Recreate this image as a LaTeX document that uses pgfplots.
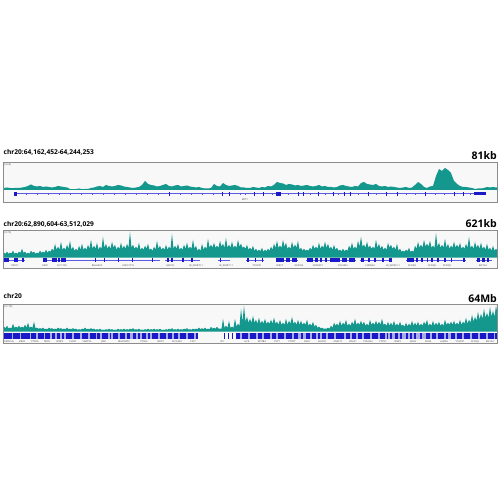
\documentclass[border=0pt]{standalone}
\usepackage{fontspec}
\setmainfont{Open Sans}
\usepackage{pgfplots}
\pgfplotsset{compat=1.18}
\definecolor{covc}{RGB}{20,152,142}
\definecolor{bgc}{RGB}{248,248,248}
\definecolor{framec}{RGB}{140,140,140}
\definecolor{genec}{RGB}{25,25,200}
\definecolor{intronc}{RGB}{90,90,230}
\definecolor{bandlight}{RGB}{170,170,235}
\definecolor{lblc}{RGB}{70,70,70}
\newcommand{\glab}{\fontsize{2.4}{2.8}\selectfont}
\pgfplotsset{trk/.style={scale only axis, width=493.5pt, xmin=3.5, xmax=497, ticks=none,
  axis background/.style={fill=bgc}, axis line style={draw=framec, line width=0.6pt},
  anchor=south west, clip=true, unbounded coords=jump}}
\begin{document}
\begin{tikzpicture}
\useasboundingbox (0,0) rectangle (500pt,500pt);
% ---------------- titles ----------------
\node[anchor=base west, inner sep=0pt, font=\bfseries\fontsize{6.6}{7}\selectfont] at (3.5pt,345pt) {chr20:64,162,452-64,244,253};
\node[anchor=base east, inner sep=0pt, font=\bfseries\fontsize{10.5}{12}\selectfont] at (497pt,340.7pt) {81kb};
\node[anchor=base west, inner sep=0pt, font=\bfseries\fontsize{6.6}{7}\selectfont] at (3.5pt,273.7pt) {chr20:62,890,604-63,512,029};
\node[anchor=base east, inner sep=0pt, font=\bfseries\fontsize{10.5}{12}\selectfont] at (497pt,272.3pt) {621kb};
\node[anchor=base west, inner sep=0pt, font=\bfseries\fontsize{6.6}{7}\selectfont] at (3.5pt,201pt) {chr20};
\node[anchor=base east, inner sep=0pt, font=\bfseries\fontsize{10.5}{12}\selectfont] at (497pt,197.7pt) {64Mb};

% ---------------- panel 1 ----------------
\begin{axis}[trk, at={(3.5pt,298pt)}, height=39.7pt, ymin=-12, ymax=27.7]
\addplot[sharp plot, fill=covc, draw=none] table[row sep=\\, header=false, x expr=4+3*\coordindex, y index=0] {
2\\2.5\\2\\1.8\\2.2\\2\\2.5\\3\\4\\5.5\\
4\\3.5\\4\\3\\3.5\\3\\2.5\\3\\4\\3.5\\
3\\2.5\\1\\0.8\\1\\1.5\\0.8\\1\\1\\2\\
2.5\\3.5\\4\\3\\5\\4\\3.5\\4\\5\\4.5\\
3.5\\3\\2.5\\2\\2.5\\3\\5\\9\\6\\5\\
4.5\\3.5\\4\\5\\6\\4\\3.5\\4.5\\5\\3.5\\
4\\4.5\\3.5\\3\\2.5\\3\\2\\1.5\\1.5\\2\\
6\\4\\3.5\\7\\5\\4\\4.5\\5\\4\\2.5\\
2.5\\2\\2\\3\\2.5\\2\\3\\2.5\\4\\3.5\\
5\\8\\7\\6.5\\5\\6\\5.5\\4.5\\5\\4\\
4.5\\5\\4\\3.5\\4\\5\\3.5\\4\\3\\3\\
2.5\\3\\4.5\\5\\4\\3.5\\3\\4\\3.5\\7\\
8\\6\\5.5\\5\\6\\4\\3.5\\4\\3\\3.5\\
3\\2.5\\2\\2.5\\3\\2\\2.5\\5\\8\\6\\
3\\2\\3.5\\4\\14\\21\\19\\22\\20\\17\\
9\\6\\4\\3\\3\\2.5\\2\\1\\1.5\\1.5\\
2\\3\\2.5\\3\\2.5\\2.5\\
} \closedcycle;
\addplot[covc, line width=0.6pt] coordinates {(3.5,0.3) (497,0.3)};
\addplot[intronc, line width=0.5pt] coordinates {(15,-3.7) (486,-3.7)};
\addplot[only marks, mark=|, mark size=0.9pt, intronc, mark options={line width=0.3pt}] coordinates {
(26,-3.7)(37,-3.7)(48,-3.7)(59,-3.7)(70,-3.7)(81,-3.7)(92,-3.7)(103,-3.7)(114,-3.7)(125,-3.7)
(136,-3.7)(147,-3.7)(158,-3.7)(180,-3.7)(191,-3.7)(202,-3.7)(213,-3.7)(240,-3.7)(245,-3.7)
(272,-3.7)(288,-3.7)(310,-3.7)(325,-3.7)(338,-3.7)(358,-3.7)(376,-3.7)(406,-3.7)(415,-3.7)
(435,-3.7)(444,-3.7)(470,-3.7)};
\addplot[genec, line width=4pt] coordinates {
(14,-3.7)(16.5,-3.7)(16.5,nan)
(168.5,-3.7)(169.5,-3.7)(169.5,nan)
(222,-3.7)(223.3,-3.7)(223.3,nan)
(228.5,-3.7)(229.8,-3.7)(229.8,nan)
(253.5,-3.7)(254.7,-3.7)(254.7,nan)
(262.5,-3.7)(264,-3.7)(264,nan)
(276,-3.7)(281,-3.7)(281,nan)
(297.5,-3.7)(298.7,-3.7)(298.7,nan)
(302.5,-3.7)(303.7,-3.7)(303.7,nan)
(317.5,-3.7)(318.5,-3.7)(318.5,nan)
(332.5,-3.7)(333.5,-3.7)(333.5,nan)
(343.5,-3.7)(344.7,-3.7)(344.7,nan)
(349.5,-3.7)(350.5,-3.7)(350.5,nan)
(367.5,-3.7)(368.5,-3.7)(368.5,nan)
(385.5,-3.7)(386.5,-3.7)(386.5,nan)
(396.5,-3.7)(397.5,-3.7)(397.5,nan)
(424.5,-3.7)(425.5,-3.7)(425.5,nan)
(453.5,-3.7)(454.5,-3.7)(454.5,nan)
(462.5,-3.7)(463.5,-3.7)};
\addplot[genec, line width=2.6pt] coordinates {(474,-3.7)(486,-3.7)};
\node[font=\glab, text=lblc, anchor=north west, inner sep=0.8pt] at (rel axis cs:0,1) {[0-66]};
\node[font=\glab, text=lblc] at (axis cs:245,-9.8) {MYT1};
\end{axis}

% ---------------- panel 2 ----------------
\begin{axis}[trk, at={(3.5pt,231.5pt)}, height=38pt, ymin=-10.8, ymax=27.2]
\addplot[sharp plot, fill=covc, draw=none] table[row sep=\\, header=false, x expr=4+1.5*\coordindex, y index=0] {
5\\4\\6\\4\\5\\4.5\\7\\4\\5\\4\\6\\5\\9\\5\\6\\4\\5\\4\\7\\5\\
6\\4\\5\\4.5\\7\\5\\6\\5\\8\\5\\7\\6\\9\\7\\14\\8\\11\\8\\16\\8\\
10\\8\\13\\9\\17\\8\\11\\7\\9\\7\\12\\8\\14\\8\\10\\8\\13\\9\\18\\9\\
12\\9\\15\\8\\11\\9\\21\\10\\14\\9\\12\\9\\16\\10\\13\\8\\11\\9\\15\\9\\
12\\9\\14\\10\\26\\10\\13\\9\\11\\9\\15\\8\\10\\8\\12\\9\\14\\8\\9\\7\\
11\\8\\17\\9\\12\\8\\10\\8\\13\\8\\11\\9\\24\\9\\12\\9\\14\\8\\10\\8\\
13\\9\\15\\9\\11\\9\\18\\9\\12\\7\\9\\7\\14\\8\\11\\9\\19\\10\\13\\10\\
15\\10\\12\\10\\17\\11\\14\\10\\20\\10\\13\\10\\16\\10\\12\\10\\18\\11\\14\\10\\
11\\9\\13\\8\\10\\8\\12\\7\\9\\6.5\\8\\6.5\\10\\6\\8\\6.5\\9\\7\\11\\8\\
14\\10\\17\\10\\12\\10\\18\\11\\15\\9\\11\\9\\16\\10\\13\\10\\17\\8\\10\\7\\
9\\7\\8\\7\\10\\8\\13\\9\\11\\9\\15\\9\\12\\10\\16\\10\\14\\9\\11\\8\\
13\\8\\10\\7\\8\\6.5\\9\\6.5\\8\\7\\12\\9\\15\\9\\11\\9\\17\\11\\21\\11\\
13\\10\\16\\10\\12\\9\\11\\9\\18\\10\\14\\9\\12\\8\\10\\8\\15\\10\\13\\9\\
11\\8\\14\\7\\9\\6\\7\\6\\8\\6.5\\10\\6\\7\\6\\12\\9\\16\\10\\13\\10\\
18\\11\\14\\11\\17\\10\\12\\10\\25\\11\\15\\10\\13\\10\\19\\10\\14\\9\\12\\10\\
16\\10\\13\\10\\15\\9\\11\\9\\14\\10\\21\\10\\12\\9\\16\\10\\13\\9\\15\\9\\
11\\8\\14\\8\\10\\7\\12\\7\\9\\7\\9\\
} \closedcycle;
\addplot[intronc, line width=0.5pt] coordinates {
(5,-2.3)(25,-2.3)(25,nan)(43,-2.3)(160,-2.3)(160,nan)(165,-2.3)(200,-2.3)(200,nan)
(218,-2.3)(230,-2.3)(230,nan)(246,-2.3)(264,-2.3)(264,nan)(276,-2.3)(298,-2.3)(298,nan)
(306,-2.3)(356,-2.3)(356,nan)(360,-2.3)(392,-2.3)(392,nan)(406,-2.3)(466,-2.3)(466,nan)
(476,-2.3)(492,-2.3)};
\addplot[genec, line width=3.4pt] coordinates {
(4,-2.3)(9,-2.3)(9,nan)(14,-2.3)(18,-2.3)(18,nan)(22,-2.3)(24,-2.3)(24,nan)
(43,-2.3)(47,-2.3)(47,nan)(52,-2.3)(57,-2.3)(57,nan)(58,-2.3)(60,-2.3)(60,nan)(61,-2.3)(66,-2.3)(66,nan)
(95,-2.3)(96,-2.3)(96,nan)(104,-2.3)(105,-2.3)(105,nan)(118,-2.3)(119,-2.3)(119,nan)
(132,-2.3)(133,-2.3)(133,nan)(152,-2.3)(153,-2.3)(153,nan)(167,-2.3)(169,-2.3)(169,nan)
(171,-2.3)(173,-2.3)(173,nan)(182,-2.3)(183.5,-2.3)(183.5,nan)(191,-2.3)(193,-2.3)(193,nan)
(220,-2.3)(221,-2.3)(221,nan)(247,-2.3)(249,-2.3)(249,nan)(255,-2.3)(256,-2.3)(256,nan)
(262,-2.3)(263,-2.3)(263,nan)(276,-2.3)(284,-2.3)(284,nan)(286,-2.3)(290,-2.3)(290,nan)
(292,-2.3)(297,-2.3)(297,nan)(307,-2.3)(313,-2.3)(313,nan)(315,-2.3)(318,-2.3)(318,nan)
(320,-2.3)(322,-2.3)(322,nan)(325,-2.3)(327,-2.3)(327,nan)(330,-2.3)(340,-2.3)(340,nan)
(342,-2.3)(347,-2.3)(347,nan)(349,-2.3)(355,-2.3)(355,nan)(361,-2.3)(364,-2.3)(364,nan)
(368,-2.3)(370,-2.3)(370,nan)(374,-2.3)(376,-2.3)(376,nan)(382,-2.3)(384,-2.3)(384,nan)
(389,-2.3)(392,-2.3)(392,nan)(407,-2.3)(414,-2.3)(414,nan)(416,-2.3)(418,-2.3)(418,nan)
(421,-2.3)(423,-2.3)(423,nan)(427,-2.3)(428,-2.3)(428,nan)(431,-2.3)(433,-2.3)(433,nan)
(437,-2.3)(439,-2.3)(439,nan)(444,-2.3)(446,-2.3)(446,nan)(451,-2.3)(452,-2.3)(452,nan)
(463,-2.3)(465,-2.3)(465,nan)(477,-2.3)(480,-2.3)(480,nan)(482,-2.3)(485,-2.3)(485,nan)
(487,-2.3)(489,-2.3)};
\node[font=\glab, text=lblc, anchor=north west, inner sep=0.8pt] at (rel axis cs:0,1) {[0-70]};
\end{axis}
\foreach \xx/\nm in {15/DIDO1,45/GID8,62/SLC17A9,97/BHLHE23,128/LINC01716,170/HAR1B,196/LR\_020870.1,226/LR\_020871.1,
 257/YTHDF1,280/BIRC7,299/NKAIN4,318/ARFGAP1,343/COL20A1,370/CHRNA4,393/LR\_020961.1,412/KCNQ2,432/KCNQ2,447/KCNQ2,483/EEF1A2}
 {\node[font=\glab, text=lblc, inner sep=0pt] at (\xx pt,233.9pt) {\nm};}

% ---------------- panel 3 ----------------
\begin{axis}[trk, at={(3.5pt,156.7pt)}, height=39pt, ymin=-11.6, ymax=27.4]
\addplot[sharp plot, fill=covc, draw=none] table[row sep=\\, header=false, x expr=4+1.5*\coordindex, y index=0] {
5\\3.5\\6\\3.5\\4\\3.5\\8\\4\\5\\4\\6\\4\\5\\4\\7\\4\\9\\4\\5\\4\\
10\\3.5\\4\\3\\3.5\\3\\4\\2.5\\3\\2.5\\4\\3\\3.5\\2.5\\3\\2.5\\4\\3\\3.5\\2.5\\
3\\2.5\\4\\2.5\\3\\2.5\\3.5\\2.5\\3\\2\\2.5\\2\\3\\2.5\\4\\2.5\\3\\2.5\\3.5\\2.5\\
3\\2\\2.5\\2\\3\\1.8\\2\\1.8\\2.5\\2\\3\\2\\2.5\\1.8\\2\\1.8\\3\\2\\2.5\\2\\
3\\2\\2.5\\2\\3\\2.2\\3.5\\2\\2.5\\2\\3\\1.8\\2\\1.8\\2.5\\2\\3\\2\\2.5\\2\\
3\\2\\2.5\\2\\3\\1.8\\2\\1.8\\2.5\\2\\3\\2.2\\3.5\\2\\2.5\\2\\3\\2\\2.5\\2\\
3\\2.5\\3.5\\2\\2.5\\2\\3\\2.2\\3\\2.5\\4\\2.5\\3.5\\2.5\\4\\2.5\\3\\2.5\\5\\3\\
4\\3\\5\\3\\3\\3\\13\\4\\6\\4\\11\\4\\5\\4\\13\\5\\8\\6\\23\\10\\
26\\10\\15\\9\\13\\9\\16\\9\\12\\8\\14\\8\\11\\8\\13\\8\\10\\8\\12\\8\\
14\\8\\10\\7\\12\\7\\9\\7\\13\\7\\11\\8\\15\\8\\10\\7\\12\\7\\11\\7\\
9\\7\\12\\6\\8\\6\\10\\5\\7\\4\\5\\3.5\\4\\3\\3\\3\\4\\3\\6\\4\\
9\\6\\8\\6\\11\\6\\9\\7\\12\\6\\8\\6\\10\\7\\13\\7\\9\\7\\11\\7\\
10\\6\\8\\6\\12\\7\\9\\7\\11\\7\\10\\7\\13\\7\\8\\6\\10\\6\\9\\6\\
11\\6\\8\\6\\10\\6\\7\\5\\9\\5.5\\8\\6\\11\\6\\9\\6\\10\\6\\8\\6\\
10\\7\\12\\6\\8\\6\\11\\6\\9\\6.5\\10\\6\\8\\6\\12\\7\\9\\7\\10\\7\\
11\\7\\9\\7\\12\\7\\10\\8\\14\\8\\12\\9\\17\\10\\15\\11\\20\\12\\18\\13\\
23\\14\\19\\14\\25\\15\\21\\15\\26\\18\\26\\
} \closedcycle;
\addplot[bandlight, line width=5.7pt] coordinates {(4,-4.5)(198,-4.5)(198,nan)(236,-4.5)(497,-4.5)};
\addplot[genec, line width=5.7pt] coordinates {
(4,-4.5)(12,-4.5)(12,nan)(13,-4.5)(20,-4.5)(20,nan)(21,-4.5)(30,-4.5)(30,nan)(31,-4.5)(36,-4.5)(36,nan)
(38,-4.5)(44,-4.5)(44,nan)(45,-4.5)(50,-4.5)(50,nan)(52,-4.5)(55,-4.5)(55,nan)(57,-4.5)(60,-4.5)(60,nan)
(62,-4.5)(64,-4.5)(64,nan)(66,-4.5)(72,-4.5)(72,nan)(74,-4.5)(80,-4.5)(80,nan)(82,-4.5)(88,-4.5)(88,nan)
(90,-4.5)(96,-4.5)(96,nan)(97,-4.5)(100,-4.5)(100,nan)(102,-4.5)(108,-4.5)(108,nan)(110,-4.5)(111,-4.5)(111,nan)
(113,-4.5)(118,-4.5)(118,nan)(120,-4.5)(125,-4.5)(125,nan)(127,-4.5)(130,-4.5)(130,nan)(133,-4.5)(136,-4.5)(136,nan)
(138,-4.5)(140,-4.5)(140,nan)(142,-4.5)(146,-4.5)(146,nan)(148,-4.5)(150,-4.5)(150,nan)(152,-4.5)(158,-4.5)(158,nan)
(160,-4.5)(166,-4.5)(166,nan)(168,-4.5)(172,-4.5)(172,nan)(174,-4.5)(178,-4.5)(178,nan)(180,-4.5)(186,-4.5)(186,nan)
(188,-4.5)(194,-4.5)(194,nan)(196,-4.5)(198,-4.5)(198,nan)(224,-4.5)(225,-4.5)(225,nan)(228,-4.5)(229,-4.5)(229,nan)
(232,-4.5)(233,-4.5)(233,nan)(236,-4.5)(240,-4.5)(240,nan)(242,-4.5)(248,-4.5)(248,nan)(250,-4.5)(256,-4.5)(256,nan)
(258,-4.5)(262,-4.5)(262,nan)(264,-4.5)(270,-4.5)(270,nan)(272,-4.5)(276,-4.5)(276,nan)(278,-4.5)(284,-4.5)(284,nan)
(286,-4.5)(292,-4.5)(292,nan)(294,-4.5)(298,-4.5)(298,nan)(301,-4.5)(303,-4.5)(303,nan)(306,-4.5)(310,-4.5)(310,nan)
(312,-4.5)(316,-4.5)(316,nan)(318,-4.5)(320,-4.5)(320,nan)(322,-4.5)(326,-4.5)(326,nan)(328,-4.5)(334,-4.5)(334,nan)
(336,-4.5)(344,-4.5)(344,nan)(346,-4.5)(350,-4.5)(350,nan)(352,-4.5)(356,-4.5)(356,nan)(358,-4.5)(362,-4.5)(362,nan)
(364,-4.5)(370,-4.5)(370,nan)(372,-4.5)(378,-4.5)(378,nan)(380,-4.5)(385,-4.5)(385,nan)(387,-4.5)(388,-4.5)(388,nan)
(390,-4.5)(392,-4.5)(392,nan)(395,-4.5)(398,-4.5)(398,nan)(400,-4.5)(402,-4.5)(402,nan)(406,-4.5)(408,-4.5)(408,nan)
(410,-4.5)(412,-4.5)(412,nan)(414,-4.5)(416,-4.5)(416,nan)(420,-4.5)(422,-4.5)(422,nan)(426,-4.5)(430,-4.5)(430,nan)
(432,-4.5)(436,-4.5)(436,nan)(438,-4.5)(444,-4.5)(444,nan)(446,-4.5)(448,-4.5)(448,nan)(451,-4.5)(455,-4.5)(455,nan)
(457,-4.5)(462,-4.5)(462,nan)(464,-4.5)(470,-4.5)(470,nan)(472,-4.5)(478,-4.5)(478,nan)(480,-4.5)(486,-4.5)(486,nan)
(488,-4.5)(494,-4.5)(494,nan)(495,-4.5)(497,-4.5)};
\node[font=\glab, text=lblc, anchor=north west, inner sep=0.8pt] at (rel axis cs:0,1) {[0-178]};
\end{axis}
\foreach \xx/\nm in {9/DEFB126,22/SIRPA,35/PTPRA,47/ATRN,60/BMP2,73/PLCB1,87/SNAP25,104/JAG1,124/MACROD2,144/PCSK2,
 161/BFSP1,177/SLC24A3,193/CST7,222/ID1,247/HCK,262/BPIFB4,277/TOP1,292/PTPRT,307/SGK2,322/ELMO2,338/ZNF217,
 353/BCAS1,368/CYP24A1,383/PTPN1,398/BMP7,413/GNAS,428/CDH4,444/LAMA5,460/YTHDF1,475/KCNQ2,490/EEF1A2}
 {\node[font=\glab, text=lblc, inner sep=0pt] at (\xx pt,158.3pt) {\nm};}
\end{tikzpicture}
\end{document}
